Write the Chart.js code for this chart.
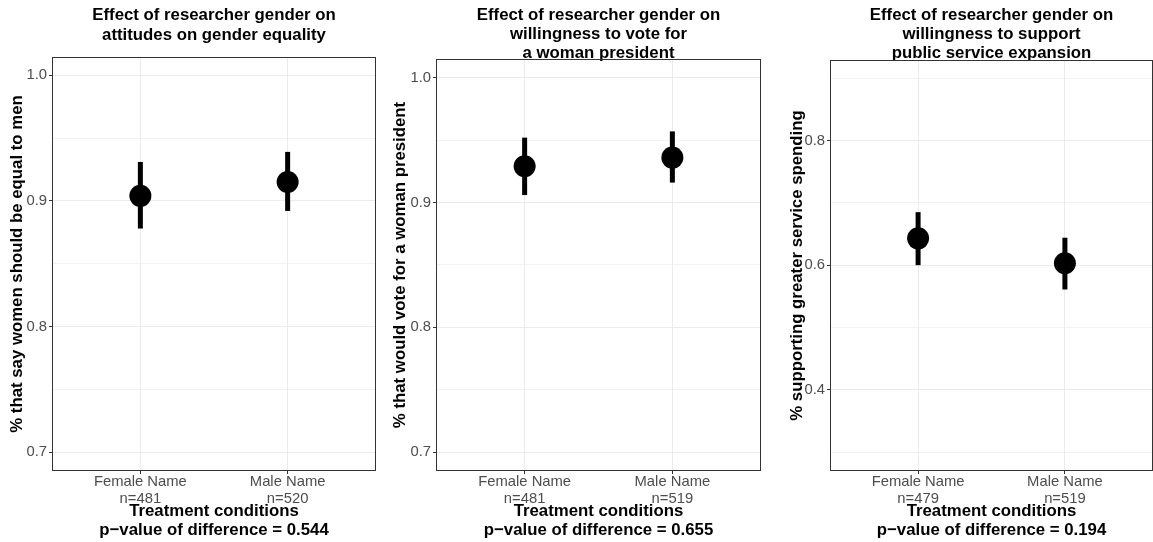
<!DOCTYPE html>
<html>
<head>
<meta charset="utf-8">
<script src="https://cdn.jsdelivr.net/npm/chart.js@4.4.1/dist/chart.umd.min.js"></script>
<style>
  html, body { margin: 0; padding: 0; background: #fff; }
  #wrap { position: relative; width: 1153px; height: 542px; overflow: hidden; }
  canvas { position: absolute; top: 0; }
</style>
</head>
<body>
<div id="wrap">
  <canvas id="c1" width="384" height="542" style="left:0px"></canvas>
  <canvas id="c2" width="385" height="542" style="left:384px"></canvas>
  <canvas id="c3" width="384" height="542" style="left:769px"></canvas>
</div>
<script>
const groups = ['Female Name', 'Male Name'];

// panel 1: gender equality
const n1 = [481, 520];
const mean1 = [0.904, 0.915];
const low1 = [0.878, 0.892];
const high1 = [0.931, 0.939];

// panel 2: woman president
const n2 = [481, 519];
const mean2 = [0.929, 0.936];
const low2 = [0.906, 0.916];
const high2 = [0.952, 0.957];

// panel 3: public service spending
const n3 = [479, 519];
const mean3 = [0.643, 0.603];
const low3 = [0.600, 0.561];
const high3 = [0.685, 0.644];

const pValues = ['0.544', '0.655', '0.194'];

const majorTicks12 = [0.7, 0.8, 0.9, 1.0];
const minorTicks12 = [0.75, 0.85, 0.95];
const majorTicks3 = [0.4, 0.6, 0.8];
const minorTicks3 = [0.3, 0.5, 0.7, 0.9];

const FONT = '"Liberation Sans", Arial, Helvetica, sans-serif';

// ggplot-style panel border all round
const panelBox = {
  id: 'panelBox',
  afterDraw(chart) {
    const a = chart.chartArea;
    const ctx = chart.ctx;
    ctx.save();
    ctx.strokeStyle = '#333333';
    ctx.lineWidth = 1;
    ctx.strokeRect(Math.round(a.left) + 0.5, Math.round(a.top) + 0.5,
      Math.round(a.right - a.left) - 1, Math.round(a.bottom - a.top) - 1);
    ctx.restore();
  }
};

function isMajor(v, majors) {
  return majors.some(m => Math.abs(m - v) < 1e-6);
}

function makePanel(id, o) {
  const datasets = [{
    data: groups.map((g, i) => ({ x: i + 1, y: o.mean[i] })),
    pointRadius: 11,
    pointBackgroundColor: '#000',
    pointBorderWidth: 0,
    order: 0
  }];
  groups.forEach((g, i) => {
    datasets.push({
      data: [{ x: i + 1, y: o.low[i] }, { x: i + 1, y: o.high[i] }],
      showLine: true,
      borderColor: '#000',
      borderWidth: 5,
      borderCapStyle: 'butt',
      pointRadius: 0,
      order: 1
    });
  });

  new Chart(document.getElementById(id), {
    type: 'scatter',
    data: { datasets: datasets },
    options: {
      responsive: false,
      animation: false,
      devicePixelRatio: 1,
      layout: { autoPadding: false, padding: { left: 0, right: o.padRight, top: 0, bottom: 0 } },
      plugins: {
        legend: { display: false },
        tooltip: { enabled: false },
        title: {
          display: true,
          text: o.title,
          fullSize: false,
          color: '#000',
          font: { family: FONT, size: 16.8, weight: 'bold', lineHeight: 1.15 },
          padding: { top: o.titleTop, bottom: o.titleBottom }
        }
      },
      scales: {
        x: {
          type: 'linear',
          min: 0.4,
          max: 2.6,
          afterBuildTicks: s => { s.ticks = groups.map((g, i) => ({ value: i + 1 })); },
          afterFit: s => { s.height = 71; s.paddingLeft = 0; s.paddingRight = 0; },
          border: { display: false },
          grid: { color: '#ebebeb', lineWidth: 1, tickColor: '#333333', tickLength: 3 },
          ticks: {
            color: '#4d4d4d',
            padding: 0,
            maxRotation: 0,
            font: { family: FONT, size: 14.8, lineHeight: 1.12 },
            callback: v => [groups[v - 1], 'n=' + o.n[v - 1]]
          },
          title: {
            display: true,
            text: ['Treatment conditions', 'p\u2212value of difference = ' + o.p],
            color: '#000',
            font: { family: FONT, size: 16.8, weight: 'bold', lineHeight: 1.1 },
            padding: { top: 0, bottom: 2.5 }
          }
        },
        y: {
          min: o.yMin,
          max: o.yMax,
          afterBuildTicks: s => {
            s.ticks = o.majors.concat(o.minors).sort((a, b) => a - b).map(v => ({ value: v }));
          },
          afterFit: s => { s.width = o.axisWidth; },
          border: { display: false },
          grid: {
            color: '#ebebeb',
            lineWidth: c => (c.tick && isMajor(c.tick.value, o.majors)) ? 1 : 0.6,
            tickColor: c => (c.tick && isMajor(c.tick.value, o.majors)) ? '#333333' : 'rgba(0,0,0,0)',
            tickLength: 3
          },
          ticks: {
            color: '#4d4d4d',
            padding: 2,
            font: { family: FONT, size: 14.8 },
            callback: v => isMajor(v, o.majors) ? v.toFixed(1) : ''
          },
          title: {
            display: true,
            text: o.yTitle,
            color: '#000',
            font: { family: FONT, size: 16.8, weight: 'bold', lineHeight: 1.1 },
            padding: { top: o.yTitlePad, bottom: 0 }
          }
        }
      }
    },
    plugins: [panelBox]
  });
}

makePanel('c1', {
  title: ['Effect of researcher gender on', 'attitudes on gender equality'],
  yTitle: '% that say women should be equal to men',
  n: n1, mean: mean1, low: low1, high: high1, p: pValues[0],
  yMin: 0.685, yMax: 1.0145, majors: majorTicks12, minors: minorTicks12,
  axisWidth: 52, padRight: 8, titleTop: 6, titleBottom: 12.4, yTitlePad: 7.8
});

makePanel('c2', {
  title: ['Effect of researcher gender on', 'willingness to vote for', 'a woman president'],
  yTitle: '% that would vote for a woman president',
  n: n2, mean: mean2, low: low2, high: high2, p: pValues[1],
  yMin: 0.685, yMax: 1.015, majors: majorTicks12, minors: minorTicks12,
  axisWidth: 52, padRight: 8, titleTop: 5.5, titleBottom: -4.5, yTitlePad: 6.8
});

makePanel('c3', {
  title: ['Effect of researcher gender on', 'willingness to support', 'public service expansion'],
  yTitle: '% supporting greater service spending',
  n: n3, mean: mean3, low: low3, high: high3, p: pValues[2],
  yMin: 0.27, yMax: 0.929, majors: majorTicks3, minors: minorTicks3,
  axisWidth: 61, padRight: 0, titleTop: 5.5, titleBottom: -3.5, yTitlePad: 18.8
});
</script>
</body>
</html>
